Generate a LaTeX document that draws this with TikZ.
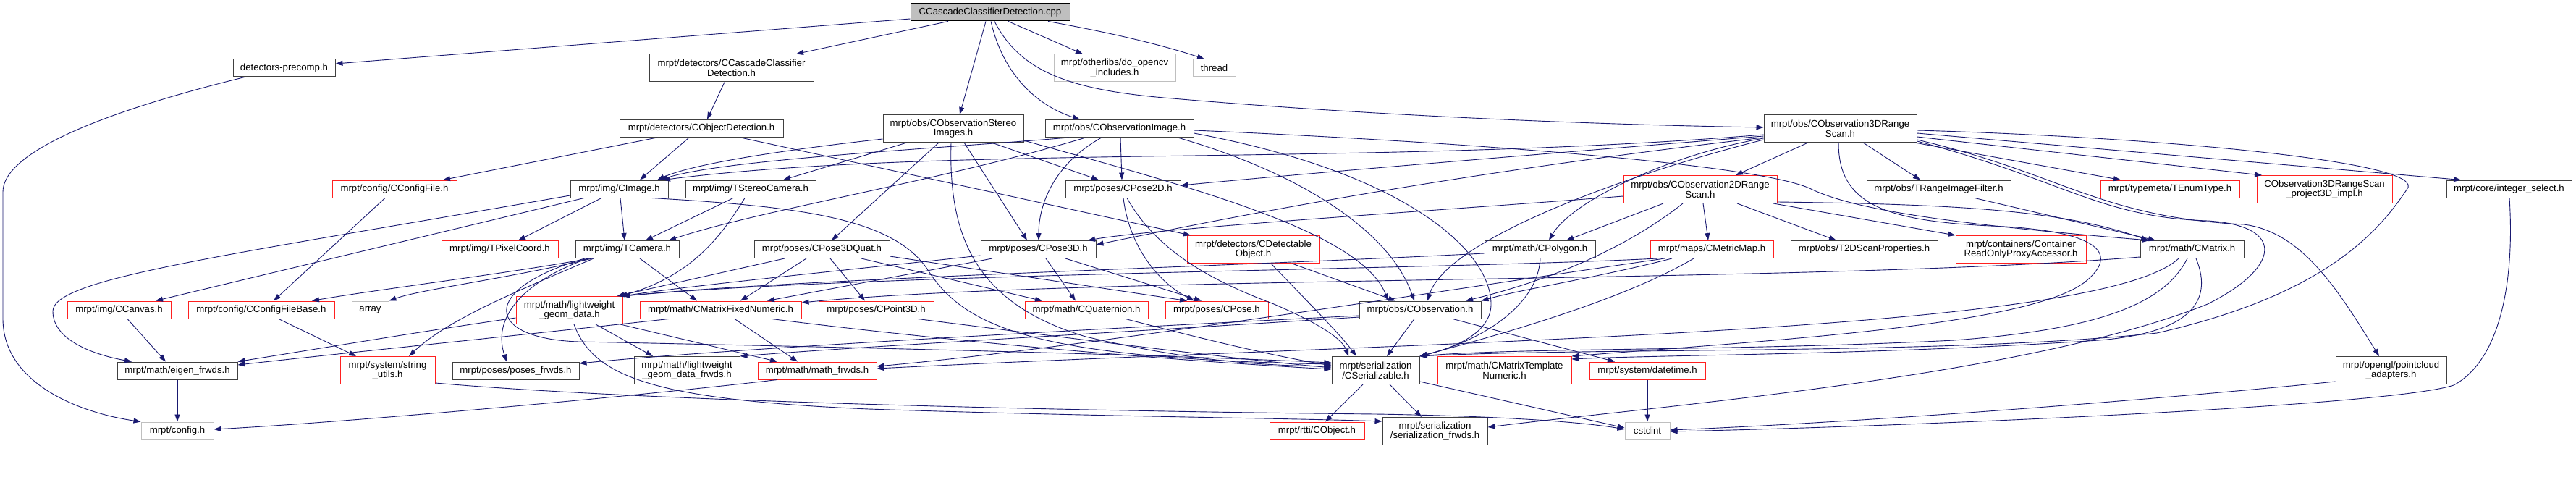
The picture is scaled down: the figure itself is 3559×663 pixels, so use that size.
\documentclass[tikz,border=0pt]{standalone}
\usepackage{fontspec}
\setmainfont{Liberation Sans}
\usetikzlibrary{arrows.meta,calc}
\definecolor{edgec}{HTML}{191970}
\definecolor{boxk}{HTML}{404040}
\definecolor{boxr}{HTML}{FF2020}
\definecolor{boxg}{HTML}{BFBFBF}
\newcommand\dxfont{\fontsize{13.2}{13.6}\selectfont}
\tikzset{
  kb/.style={draw=boxk, line width=1pt, rectangle, inner sep=0pt, font=\dxfont, align=center, minimum height=24pt},
  rb/.style={kb, draw=boxr},
  gb/.style={kb, draw=boxg},
  tall/.style={minimum height=38pt},
  e/.style={draw=edgec, line width=0.9pt, -{Triangle[length=10pt,width=7pt]}},
}
\begin{document}
\begin{tikzpicture}[x=1pt,y=-1pt]
\fill[white] (0,0) rectangle (3559,663);
\useasboundingbox (0,0) rectangle (3559,663);
% row 1
\node[kb, draw=black, fill=boxg, minimum width=220pt] (root) at (1368,17) {CCascadeClassifierDetection.cpp};
% row 2
\node[kb, minimum width=141pt] (precomp) at (392.5,94) {detectors-precomp.h};
\node[kb, tall, minimum width=227pt] (ccd) at (1010.5,94) {mrpt/detectors/CCascadeClassifier\\Detection.h};
\node[gb, tall, minimum width=168pt] (opencv) at (1540,94) {mrpt/otherlibs/do\_opencv\\\_includes.h};
\node[gb, minimum width=59pt] (thread) at (1677.5,94) {thread};
% row 3
\node[kb, minimum width=226pt] (objdet) at (969,177.5) {mrpt/detectors/CObjectDetection.h};
\node[kb, tall, minimum width=194pt] (stereo) at (1317,177.5) {mrpt/obs/CObservationStereo\\Images.h};
\node[kb, minimum width=205pt] (obsimg) at (1546.5,177.5) {mrpt/obs/CObservationImage.h};
\node[kb, tall, minimum width=211pt] (obs3d) at (2542.5,177.5) {mrpt/obs/CObservation3DRange\\Scan.h};
% row 4
\node[rb, minimum width=172pt] (cfgfile) at (545,261) {mrpt/config/CConfigFile.h};
\node[kb, minimum width=135pt] (cimage) at (855.5,261) {mrpt/img/CImage.h};
\node[kb, minimum width=180pt] (tstereo) at (1037,261) {mrpt/img/TStereoCamera.h};
\node[kb, minimum width=159pt] (cpose2d) at (1551.5,261) {mrpt/poses/CPose2D.h};
\node[rb, tall, minimum width=212pt] (obs2d) at (2349,261.5) {mrpt/obs/CObservation2DRange\\Scan.h};
\node[kb, minimum width=199pt] (trange) at (2678.5,261) {mrpt/obs/TRangeImageFilter.h};
\node[rb, minimum width=192pt] (tenum) at (2998,261) {mrpt/typemeta/TEnumType.h};
\node[rb, tall, minimum width=187pt] (proj3d) at (3211.5,261.5) {CObservation3DRangeScan\\\_project3D\_impl.h};
\node[kb, minimum width=173pt] (intsel) at (3466.5,261) {mrpt/core/integer\_select.h};
% row 5
\node[rb, minimum width=161pt] (tpixel) at (690.5,344.5) {mrpt/img/TPixelCoord.h};
\node[kb, minimum width=143pt] (tcamera) at (866.5,344.5) {mrpt/img/TCamera.h};
\node[kb, minimum width=187pt] (pose3dq) at (1135.5,344.5) {mrpt/poses/CPose3DQuat.h};
\node[kb, minimum width=159pt] (pose3d) at (1434.5,344.5) {mrpt/poses/CPose3D.h};
\node[rb, tall, minimum width=183pt] (detobj) at (1731.5,344.5) {mrpt/detectors/CDetectable\\Object.h};
\node[kb, minimum width=153pt] (polygon) at (2127.5,344.5) {mrpt/math/CPolygon.h};
\node[rb, minimum width=170pt] (metricmap) at (2365,344.5) {mrpt/maps/CMetricMap.h};
\node[kb, minimum width=203pt] (t2dscan) at (2575.5,344.5) {mrpt/obs/T2DScanProperties.h};
\node[rb, tall, minimum width=180pt] (container) at (2792,344.5) {mrpt/containers/Container\\ReadOnlyProxyAccessor.h};
\node[kb, minimum width=143pt] (cmatrix) at (3028.5,344.5) {mrpt/math/CMatrix.h};
% row 6
\node[rb, minimum width=143pt] (ccanvas) at (164.5,428) {mrpt/img/CCanvas.h};
\node[rb, minimum width=202pt] (cfgbase) at (361,428) {mrpt/config/CConfigFileBase.h};
\node[gb, minimum width=51pt] (array) at (511.5,428) {array};
\node[rb, tall, minimum width=147pt] (lwgeom) at (786.5,428.5) {mrpt/math/lightweight\\\_geom\_data.h};
\node[rb, minimum width=223pt] (cmfixed) at (995.5,428) {mrpt/math/CMatrixFixedNumeric.h};
\node[rb, minimum width=159pt] (cpoint3d) at (1210.5,428) {mrpt/poses/CPoint3D.h};
\node[rb, minimum width=170pt] (cquat) at (1501,428) {mrpt/math/CQuaternion.h};
\node[rb, minimum width=142pt] (cpose) at (1681,428) {mrpt/poses/CPose.h};
\node[kb, minimum width=168pt] (cobs) at (1962,428) {mrpt/obs/CObservation.h};
% row 7
\node[kb, minimum width=166pt] (eigen) at (245,512) {mrpt/math/eigen\_frwds.h};
\node[rb, tall, minimum width=131pt] (strutils) at (535.5,511.5) {mrpt/system/string\\\_utils.h};
\node[kb, minimum width=175pt] (posesfrwds) at (712.5,512) {mrpt/poses/poses\_frwds.h};
\node[kb, tall, minimum width=146pt] (lwfrwds) at (949,511.5) {mrpt/math/lightweight\\\_geom\_data\_frwds.h};
\node[rb, minimum width=164pt] (mathfrwds) at (1129,512) {mrpt/math/math\_frwds.h};
\node[kb, tall, minimum width=121pt] (cserial) at (1900.5,511.5) {mrpt/serialization\\/CSerializable.h};
\node[rb, tall, minimum width=185pt] (cmtn) at (2078.5,511.5) {mrpt/math/CMatrixTemplate\\Numeric.h};
\node[rb, minimum width=160pt] (datetime) at (2276,512) {mrpt/system/datetime.h};
\node[kb, tall, minimum width=153pt] (pcadapt) at (3303.5,511.5) {mrpt/opengl/pointcloud\\\_adapters.h};
% row 8
\node[gb, minimum width=100pt] (config) at (245,595) {mrpt/config.h};
\node[rb, minimum width=131pt] (cobject) at (1819.5,595) {mrpt/rtti/CObject.h};
\node[kb, tall, minimum width=145pt] (serfrwds) at (1982.5,595.5) {mrpt/serialization\\/serialization\_frwds.h};
\node[gb, minimum width=62pt] (cstdint) at (2276,595) {cstdint};

% ---- edges ----
% root
\draw[e] (root.west|-0,26) -- (precomp.east|-0,88);
\draw[e] (1310,0|-root.south) -- (1100,0|-ccd.north);
\draw[e] (1362,0|-root.south) -- (1326,0|-stereo.north);
\draw[e] (1369,0|-root.south) .. controls (1385,100) and (1430,145) .. (1492,0|-obsimg.north);
\draw[e] (1374,0|-root.south) .. controls (1410,100) and (1480,125) .. (1620,136) .. controls (1900,160) and (2200,172) .. (obs3d.west|-0,176);
\draw[e] (1393,0|-root.south) -- (1496,0|-opencv.north);
\draw[e] (1448,0|-root.south) .. controls (1550,48) and (1615,65) .. (1664,0|-thread.north);
% precomp
\draw[e] (338,0|-precomp.south) .. controls (120,160) and (4,215) .. (4,265) -- (4,440) .. controls (4,530) and (110,570) .. (config.north west);
% ccd, objdet
\draw[e] (1001,0|-ccd.south) -- (977,0|-objdet.north);
\draw[e] (908,0|-objdet.south) -- (612,0|-cfgfile.north);
\draw[e] (952,0|-objdet.south) -- (884,0|-cimage.north);
\draw[e] (1023,0|-objdet.south) -- (1645,0|-detobj.north);
% config files
\draw[e] (532,0|-cfgfile.south) -- (378,0|-cfgbase.north);
\draw[e] (385,0|-cfgbase.south) -- (492,0|-strutils.north);
% cimage
\draw[e] (cimage.west|-0,270) .. controls (300,355) and (73,385) .. (73,430) .. controls (73,470) and (130,490) .. (182,0|-eigen.north);
\draw[e] (807,0|-cimage.south) -- (215,0|-ccanvas.north);
\draw[e] (831,0|-cimage.south) -- (716,0|-tpixel.north);
\draw[e] (857,0|-cimage.south) -- (863,0|-tcamera.north);
\draw[e] (900,0|-cimage.south) .. controls (1100,285) and (1230,300) .. (1280,370) .. controls (1330,450) and (1420,495) .. (cserial.west|-0,503);
% tstereo
\draw[e] (1013,0|-tstereo.south) -- (892,0|-tcamera.north);
\draw[e] (1029,0|-tstereo.south) .. controls (1000,320) and (960,380) .. ([xshift=-4pt]lwgeom.north east);
% stereo
\draw[e] (stereo.west|-0,192) .. controls (1100,205) and (960,225) .. (908,0|-cimage.north);
\draw[e] (1253,0|-stereo.south) -- (1082,0|-tstereo.north);
\draw[e] (1297,0|-stereo.south) -- (1149,0|-pose3dq.north);
\draw[e] (1314,0|-stereo.south) .. controls (1310,330) and (1350,420) .. (1500,465) .. controls (1650,500) and (1750,505) .. (cserial.west|-0,506);
\draw[e] (1332,0|-stereo.south) -- (1419,0|-pose3d.north);
\draw[e] (1370,0|-stereo.south) -- (1518,0|-cpose2d.north);
\draw[e] (stereo.east|-0,194) .. controls (1650,260) and (1880,320) .. (1918,0|-cobs.north);
% obsimg
\draw[e] (1477,0|-obsimg.south) .. controls (1300,205) and (1000,220) .. (912,0|-cimage.north);
\draw[e] (1500,0|-obsimg.south) .. controls (1300,250) and (1050,290) .. (924,0|-tcamera.north);
\draw[e] (1522,0|-obsimg.south) .. controls (1450,230) and (1435,290) .. (1435,0|-pose3d.north);
\draw[e] (1548,0|-obsimg.south) -- (1550,0|-cpose2d.north);
\draw[e] (1627,0|-obsimg.south) .. controls (1800,240) and (1920,320) .. (1954,0|-cobs.north);
\draw[e] (obsimg.east|-0,184) .. controls (1950,240) and (2060,350) .. (2060,420) .. controls (2060,460) and (2010,480) .. (cserial.north east);
\draw[e] (obsimg.east|-0,180) .. controls (2000,195) and (2420,225) .. (2500,260) .. controls (2560,290) and (2700,310) .. (2970,0|-cmatrix.north);
% obs3d left
\draw[e] (obs3d.west|-0,186) .. controls (1900,230) and (1300,200) .. (916,0|-cimage.north);
\draw[e] (obs3d.west|-0,188) .. controls (2100,215) and (1800,240) .. (cpose2d.east|-0,256);
\draw[e] (obs3d.west|-0,190) .. controls (2000,240) and (1700,300) .. (pose3d.east|-0,338);
\draw[e] (obs3d.west|-0,193) .. controls (2250,240) and (2000,330) .. (1972,0|-cobs.north);
\draw[e] (obs3d.west|-0,191) .. controls (2300,215) and (2170,280) .. (2140,0|-polygon.north);
% obs3d bottom / right
\draw[e] (2498,0|-obs3d.south) -- (2398,0|-obs2d.north);
\draw[e] (2574,0|-obs3d.south) -- (2653,0|-trange.north);
\draw[e] (2645,0|-obs3d.south) -- (2930,0|-tenum.north);
\draw[e] (obs3d.east|-0,189) -- (3125,0|-proj3d.north);
\draw[e] (obs3d.east|-0,184) -- (3400,0|-intsel.north);
\draw[e] (obs3d.east|-0,193) .. controls (2850,240) and (2900,300) .. (3100,310) .. controls (3180,320) and (3230,400) .. (3287,0|-pcadapt.north);
\draw[e] (obs3d.east|-0,195) .. controls (2850,248) and (2900,300) .. (3050,305) .. controls (3160,312) and (3150,370) .. (3050,420) .. controls (2800,520) and (2300,560) .. (serfrwds.east|-0,590);
\draw[e] (obs3d.east|-0,180) .. controls (3000,190) and (3360,225) .. (3325,262) .. controls (3280,330) and (3200,410) .. (2980,460) .. controls (2700,490) and (2200,480) .. (cserial.north east);
\draw[e] (2540,0|-obs3d.south) .. controls (2540,280) and (2600,305) .. (2750,312) .. controls (2900,318) and (2930,350) .. (2880,390) .. controls (2800,450) and (2450,470) .. (cmtn.north east);
% obs2d
\draw[e] (obs2d.west|-0,271) .. controls (2000,290) and (1600,315) .. (1503,0|-pose3d.north);
\draw[e] (2298,0|-obs2d.south) -- (2164,0|-polygon.north);
\draw[e] (2325,0|-obs2d.south) .. controls (2250,340) and (2150,385) .. (2025,0|-cobs.north);
\draw[e] (2353,0|-obs2d.south) -- (2360,0|-metricmap.north);
\draw[e] (2400,0|-obs2d.south) -- (2537,0|-t2dscan.north);
\draw[e] (2450,0|-obs2d.south) -- (container.north west);
\draw[e] (obs2d.east|-0,279) .. controls (2700,282) and (2850,290) .. (2968,0|-cmatrix.north);
\draw[e] (2728,0|-trange.south) -- (2978,0|-cmatrix.north);
% metricmap
\draw[e] (2290,0|-metricmap.south) .. controls (2000,372) and (1200,378) .. (lwgeom.north east);
\draw[e] (2310,0|-metricmap.south) .. controls (2200,385) and (2100,400) .. (cobs.north east);
\draw[e] (2340,0|-metricmap.south) .. controls (2250,410) and (2100,455) .. (cserial.north east);
\draw[e] (2300,0|-metricmap.south) .. controls (2000,400) and (1500,480) .. (mathfrwds.east|-0,506);
% polygon
\draw[e] (polygon.west|-0,350) .. controls (1700,368) and (1100,385) .. (lwgeom.north east);
\draw[e] (2128,0|-polygon.south) .. controls (2125,420) and (2050,470) .. (cserial.north east);
% cmatrix
\draw[e] (cmatrix.west|-0,355) .. controls (2500,392) and (1500,380) .. (cmfixed.east|-0,418);
\draw[e] (3022,0|-cmatrix.south) .. controls (2990,420) and (2900,455) .. (2700,470) .. controls (2400,485) and (2100,480) .. (cserial.north east);
\draw[e] (3034,0|-cmatrix.south) .. controls (3060,420) and (3020,460) .. (2900,470) .. controls (2600,490) and (2300,490) .. (cmtn.east|-0,496);
\draw[e] (3010,0|-cmatrix.south) .. controls (2900,460) and (2000,470) .. (mathfrwds.east|-0,509);
% detobj
\draw[e] (1756,0|-detobj.south) .. controls (1800,410) and (1850,460) .. (1874,0|-cserial.north);
\draw[e] (1785,0|-detobj.south) -- (1928,0|-cobs.north);
% cpose2d
\draw[e] (1552,0|-cpose2d.south) .. controls (1560,340) and (1600,390) .. (1650,0|-cpose.north);
\draw[e] (1557,0|-cpose2d.south) .. controls (1600,350) and (1680,390) .. (1760,420) .. controls (1830,450) and (1855,470) .. (1863,0|-cserial.north);
% pose3dq
\draw[e] (1084,0|-pose3dq.south) -- ([xshift=-8pt]lwgeom.north east);
\draw[e] (1114,0|-pose3dq.south) -- (1023,0|-cmfixed.north);
\draw[e] (1147,0|-pose3dq.south) -- (1195,0|-cpoint3d.north);
\draw[e] (1190,0|-pose3dq.south) -- (1440,0|-cquat.north);
\draw[e] (pose3dq.east|-0,354) -- (1640,0|-cpose.north);
% pose3d
\draw[e] (pose3d.west|-0,353) .. controls (1150,375) and (950,395) .. (lwgeom.north east);
\draw[e] (1371,0|-pose3d.south) -- (1060,0|-cmfixed.north);
\draw[e] (1445,0|-pose3d.south) -- (1486,0|-cquat.north);
\draw[e] (1472,0|-pose3d.south) -- (1660,0|-cpose.north);
% cpoint3d, cquat
\draw[e] (1268,0|-cpoint3d.south) .. controls (1500,470) and (1700,495) .. (cserial.west|-0,508);
\draw[e] (1555,0|-cquat.south) .. controls (1650,465) and (1750,490) .. (cserial.west|-0,505);
% cmfixed
\draw[e] (1015,0|-cmfixed.south) -- (1102,0|-mathfrwds.north);
\draw[e] (1066,0|-cmfixed.south) .. controls (1300,470) and (1600,497) .. (cserial.west|-0,510);
\draw[e] (924,0|-cmfixed.south) .. controls (700,465) and (500,485) .. (eigen.east|-0,504);
% lwgeom
\draw[e] (lwgeom.west|-0,439) .. controls (600,455) and (450,480) .. (eigen.north east);
\draw[e] (823,0|-lwgeom.south) -- (902,0|-lwfrwds.north);
\draw[e] (857,0|-lwgeom.south) -- (1074,0|-mathfrwds.north);
\draw[e] (793,0|-lwgeom.south) .. controls (820,520) and (900,552) .. (1200,565) .. controls (1500,575) and (1800,578) .. (serfrwds.west|-0,582);
% tcamera
\draw[e] (884,0|-tcamera.south) -- (963,0|-cmfixed.north);
\draw[e] (815,0|-tcamera.south) .. controls (700,378) and (520,400) .. (431,0|-cfgbase.north);
\draw[e] (818,0|-tcamera.south) .. controls (700,385) and (580,400) .. (array.north east);
\draw[e] (812,0|-tcamera.south) .. controls (720,390) and (680,440) .. (700,0|-posesfrwds.north);
\draw[e] (820,0|-tcamera.south) .. controls (720,400) and (620,440) .. (565,0|-strutils.north);
\draw[e] (808,0|-tcamera.south) .. controls (660,400) and (670,468) .. (800,472) .. controls (1200,480) and (1600,490) .. (cserial.west|-0,501);
% lower left
\draw[e] (176,0|-ccanvas.south) -- (229,0|-eigen.north);
\draw[e] (eigen.south) -- (config.north);
\draw[e] (1074,0|-mathfrwds.south) .. controls (900,545) and (500,582) .. (config.east|-0,593);
\draw[e] (strutils.east|-0,529) .. controls (900,555) and (1500,568) .. (1900,572) .. controls (2100,575) and (2200,585) .. (cstdint.west|-0,593);
% cobs
\draw[e] (1954,0|-cobs.south) -- (1916,0|-cserial.north);
\draw[e] (2007,0|-cobs.south) -- (2231,0|-datetime.north);
\draw[e] (cobs.west|-0,436) .. controls (1500,455) and (1000,482) .. (posesfrwds.east|-0,502);
\draw[e] (cobs.west|-0,438) .. controls (1500,462) and (1200,478) .. (lwfrwds.north east);
% cserial
\draw[e] (1883,0|-cserial.south) -- (1831,0|-cobject.north);
\draw[e] (1920,0|-cserial.south) -- (1964,0|-serfrwds.north);
\draw[e] (cserial.east|-0,527) -- (cstdint.west|-0,591);
\draw[e] (datetime.south) -- (cstdint.north);
% right bottom
\draw[e] (pcadapt.west|-0,527) .. controls (3000,550) and (2600,582) .. (cstdint.east|-0,594);
\draw[e] (3467,0|-intsel.south) .. controls (3475,400) and (3450,500) .. (3390,532) .. controls (3300,562) and (2600,590) .. (cstdint.east|-0,596);
\end{tikzpicture}
\end{document}
